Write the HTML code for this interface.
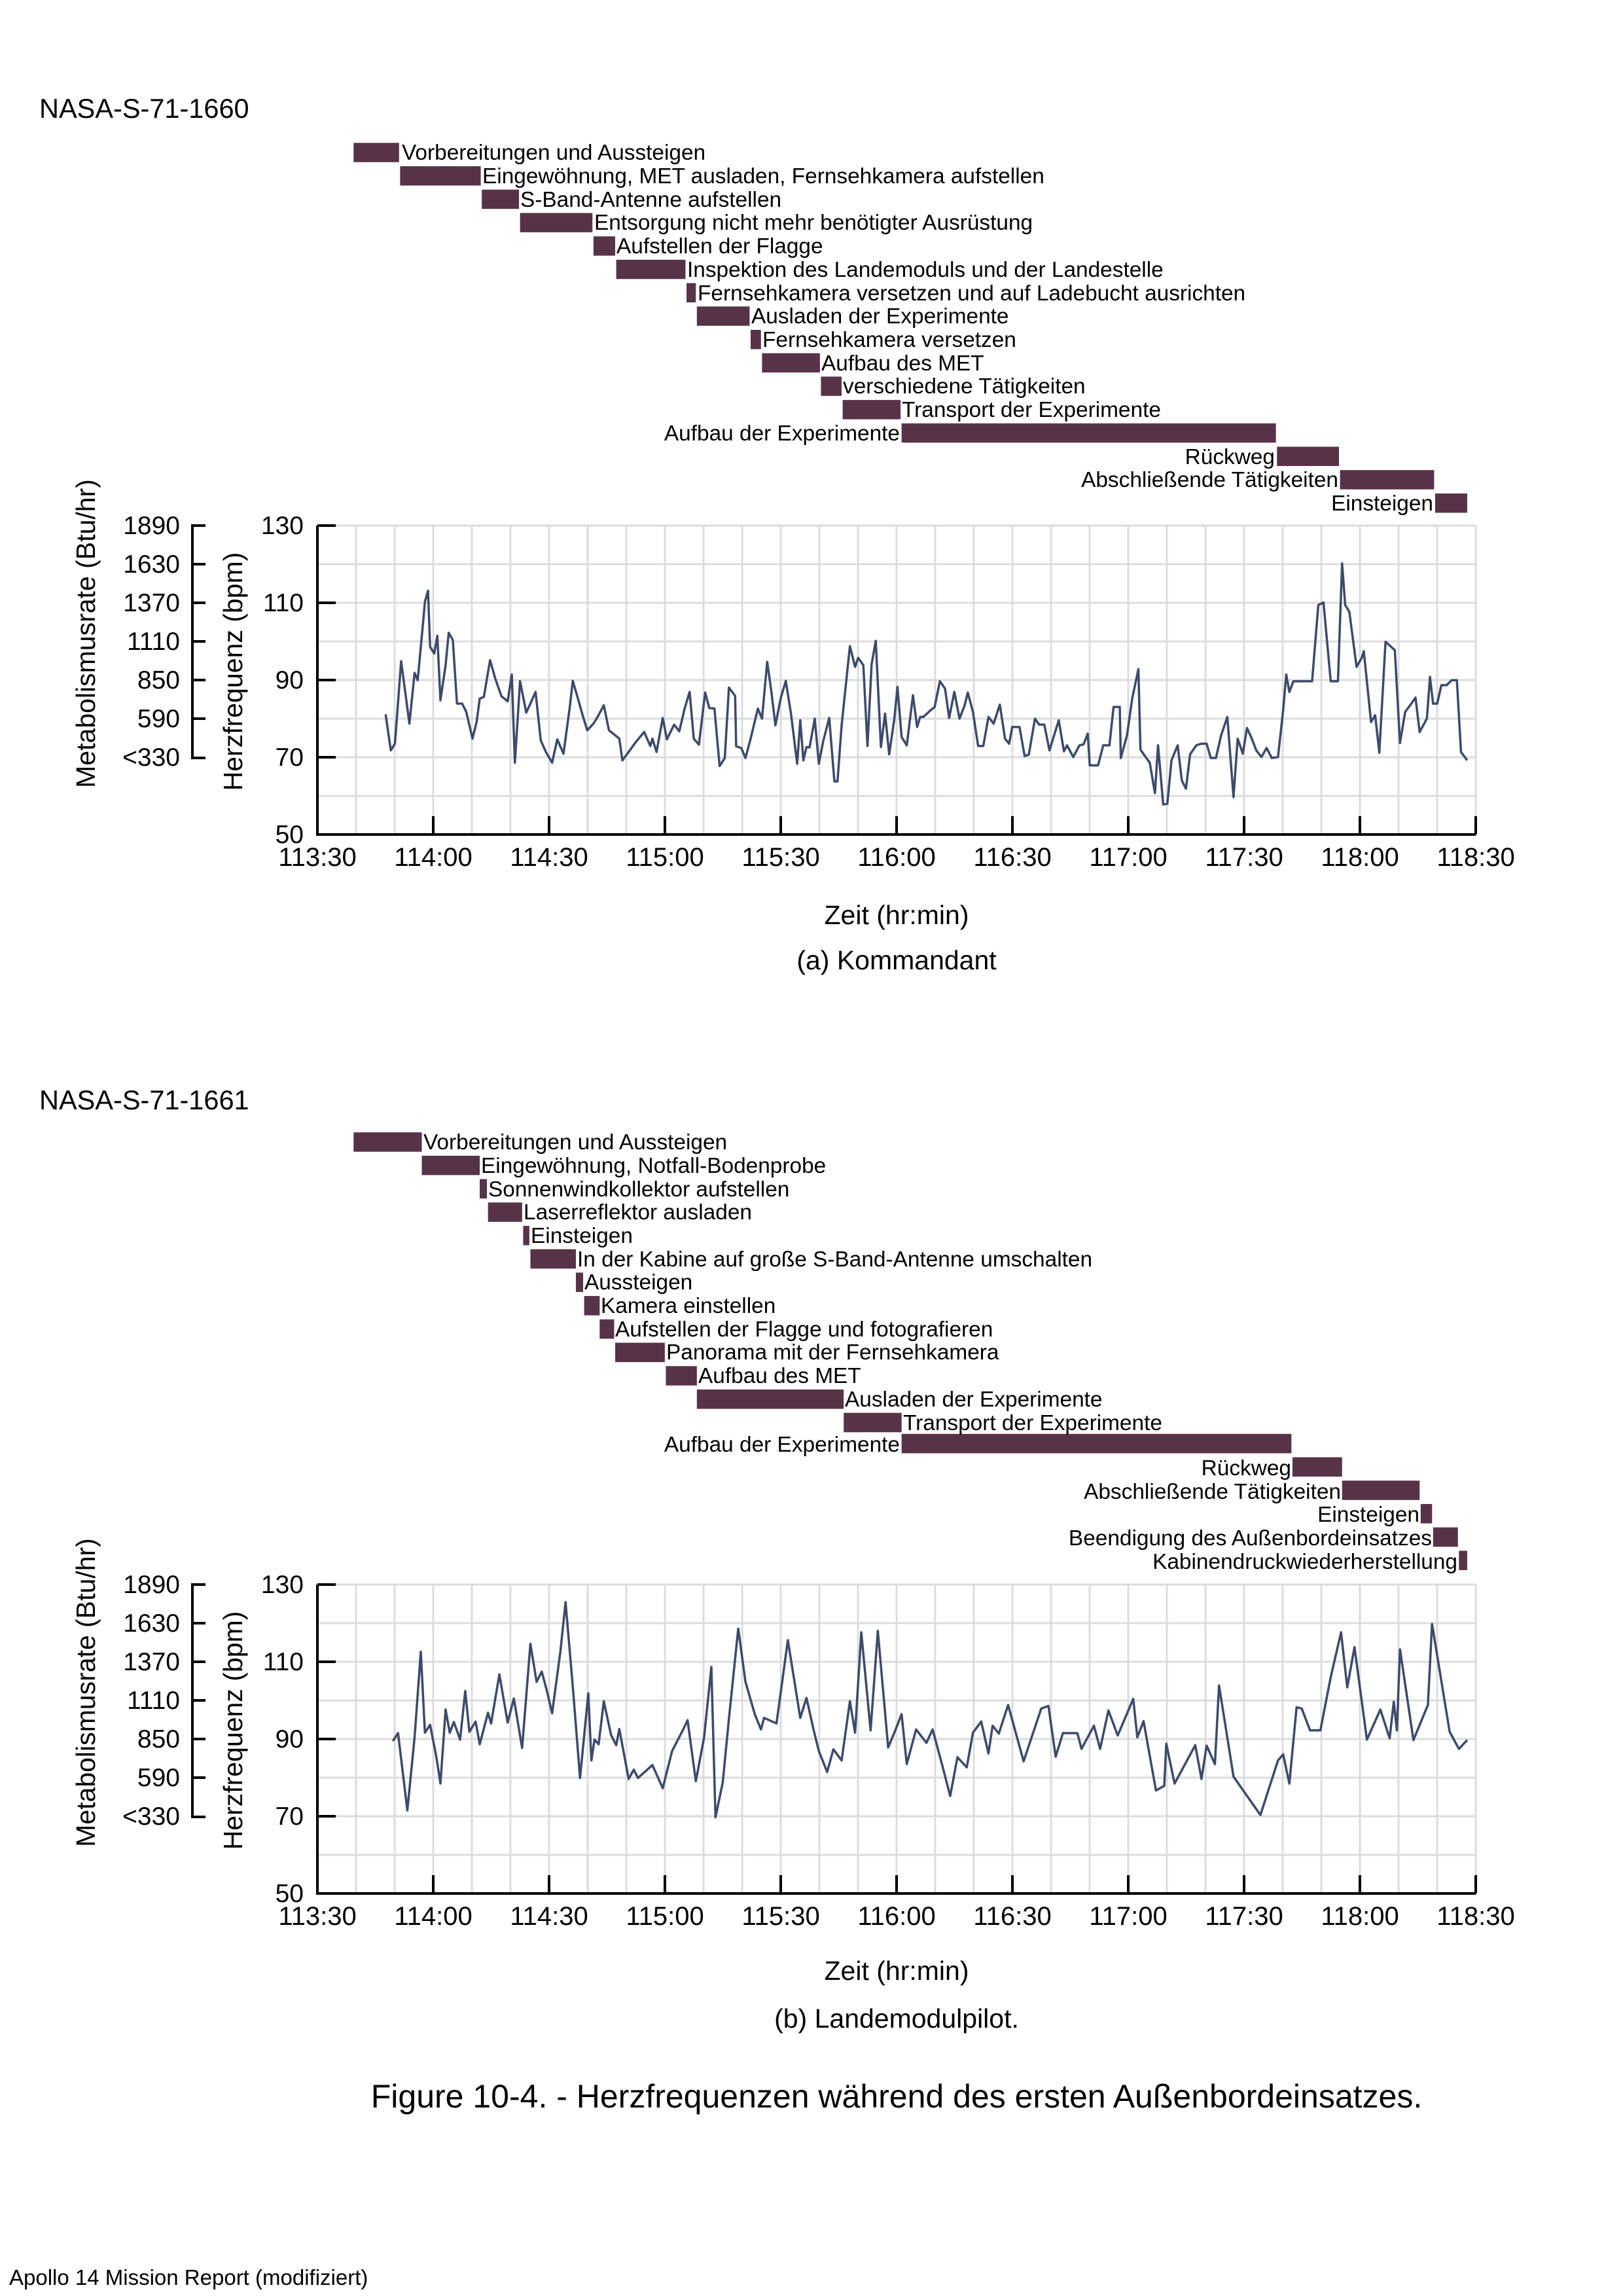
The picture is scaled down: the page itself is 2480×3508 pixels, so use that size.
<!DOCTYPE html>
<html><head><meta charset="utf-8"><style>
html,body{margin:0;padding:0;background:#fff}
svg{display:block}
text{font-family:"Liberation Sans",Arial,sans-serif;fill:#000}
</style></head><body>
<svg width="2480" height="3508" viewBox="0 0 2480 3508" xmlns="http://www.w3.org/2000/svg">
<rect width="2480" height="3508" fill="#fff"/>

<!-- ================= CHART A ================= -->
<text x="60" y="180" font-size="41.5">NASA-S-71-1660</text>

<g transform="matrix(1.58 0 0 0.4464 1.5 100)" fill="#573348">
<rect x="341" y="265" width="44" height="66"/>
<rect x="386" y="345" width="78" height="66"/>
<rect x="465" y="425" width="36" height="66"/>
<rect x="502" y="505" width="70" height="66"/>
<rect x="573" y="585" width="21" height="66"/>
<rect x="595" y="665" width="67" height="66"/>
<rect x="663" y="745" width="9" height="66"/>
<rect x="673" y="825" width="51" height="66"/>
<rect x="725" y="905" width="10" height="66"/>
<rect x="736" y="985" width="56" height="66"/>
<rect x="793" y="1065" width="20" height="66"/>
<rect x="814" y="1145" width="56" height="66"/>
<rect x="871" y="1225" width="362" height="66"/>
<rect x="1234" y="1305" width="60" height="66"/>
<rect x="1295" y="1385" width="91" height="66"/>
<rect x="1387" y="1465" width="31" height="66"/>
</g>
<g font-size="33.4">
<text x="614" y="244">Vorbereitungen und Aussteigen</text>
<text x="737" y="280">Eingewöhnung, MET ausladen, Fernsehkamera aufstellen</text>
<text x="795" y="316">S-Band-Antenne aufstellen</text>
<text x="908" y="351">Entsorgung nicht mehr benötigter Ausrüstung</text>
<text x="942" y="387">Aufstellen der Flagge</text>
<text x="1050" y="423">Inspektion des Landemoduls und der Landestelle</text>
<text x="1066" y="459">Fernsehkamera versetzen und auf Ladebucht ausrichten</text>
<text x="1148" y="494">Ausladen der Experimente</text>
<text x="1165" y="530">Fernsehkamera versetzen</text>
<text x="1255" y="566">Aufbau des MET</text>
<text x="1288" y="601">verschiedene Tätigkeiten</text>
<text x="1378" y="637">Transport der Experimente</text>
<text x="1375" y="673" text-anchor="end">Aufbau der Experimente</text>
<text x="1948" y="709" text-anchor="end">Rückweg</text>
<text x="2045" y="744" text-anchor="end">Abschließende Tätigkeiten</text>
<text x="2190" y="780" text-anchor="end">Einsteigen</text>
</g>

<!-- grid A -->
<g stroke="#dcdcdc" stroke-width="3">
<line x1="485" y1="803" x2="2255" y2="803"/><line x1="485" y1="862" x2="2255" y2="862"/><line x1="485" y1="921" x2="2255" y2="921"/><line x1="485" y1="980" x2="2255" y2="980"/><line x1="485" y1="1039" x2="2255" y2="1039"/><line x1="485" y1="1098" x2="2255" y2="1098"/><line x1="485" y1="1157" x2="2255" y2="1157"/><line x1="485" y1="1216" x2="2255" y2="1216"/>
</g>
<g stroke="#dcdcdc" stroke-width="3" id="vga">
<line x1="544" y1="803" x2="544" y2="1275"/><line x1="603" y1="803" x2="603" y2="1275"/><line x1="662" y1="803" x2="662" y2="1275"/><line x1="721" y1="803" x2="721" y2="1275"/><line x1="780" y1="803" x2="780" y2="1275"/><line x1="839" y1="803" x2="839" y2="1275"/><line x1="898" y1="803" x2="898" y2="1275"/><line x1="957" y1="803" x2="957" y2="1275"/><line x1="1016" y1="803" x2="1016" y2="1275"/><line x1="1075" y1="803" x2="1075" y2="1275"/><line x1="1134" y1="803" x2="1134" y2="1275"/><line x1="1193" y1="803" x2="1193" y2="1275"/><line x1="1252" y1="803" x2="1252" y2="1275"/><line x1="1311" y1="803" x2="1311" y2="1275"/><line x1="1370" y1="803" x2="1370" y2="1275"/><line x1="1429" y1="803" x2="1429" y2="1275"/><line x1="1488" y1="803" x2="1488" y2="1275"/><line x1="1547" y1="803" x2="1547" y2="1275"/><line x1="1606" y1="803" x2="1606" y2="1275"/><line x1="1665" y1="803" x2="1665" y2="1275"/><line x1="1724" y1="803" x2="1724" y2="1275"/><line x1="1783" y1="803" x2="1783" y2="1275"/><line x1="1842" y1="803" x2="1842" y2="1275"/><line x1="1901" y1="803" x2="1901" y2="1275"/><line x1="1960" y1="803" x2="1960" y2="1275"/><line x1="2019" y1="803" x2="2019" y2="1275"/><line x1="2078" y1="803" x2="2078" y2="1275"/><line x1="2137" y1="803" x2="2137" y2="1275"/><line x1="2196" y1="803" x2="2196" y2="1275"/><line x1="2255" y1="803" x2="2255" y2="1275"/>
</g>
<!-- axes A -->
<g stroke="#000" stroke-width="4" fill="none">
<path d="M485 803 V1275 H2255"/>
<path d="M485 803 H513 M485 921 H513 M485 1039 H513 M485 1157 H513"/>
<path d="M662 1275 V1247 M839 1275 V1247 M1016 1275 V1247 M1193 1275 V1247 M1370 1275 V1247 M1547 1275 V1247 M1724 1275 V1247 M1901 1275 V1247 M2078 1275 V1247 M2255 1275 V1247"/>
<path d="M314 803 H294 V1158 H314 M294 862 H314 M294 921 H314 M294 980 H314 M294 1039 H314 M294 1098 H314"/>
</g>
<g font-size="39" text-anchor="end">
<text x="464" y="816">130</text><text x="464" y="934">110</text><text x="464" y="1052">90</text><text x="464" y="1170">70</text><text x="464" y="1288">50</text>
<text x="275" y="816">1890</text><text x="275" y="875">1630</text><text x="275" y="934">1370</text><text x="275" y="993">1110</text><text x="275" y="1052">850</text><text x="275" y="1111">590</text><text x="275" y="1170">&lt;330</text>
</g>
<g font-size="40" text-anchor="middle">
<text x="485" y="1323">113:30</text><text x="662" y="1323">114:00</text><text x="839" y="1323">114:30</text><text x="1016" y="1323">115:00</text><text x="1193" y="1323">115:30</text><text x="1370" y="1323">116:00</text><text x="1547" y="1323">116:30</text><text x="1724" y="1323">117:00</text><text x="1901" y="1323">117:30</text><text x="2078" y="1323">118:00</text><text x="2255" y="1323">118:30</text>
</g>
<text x="159" y="982" font-size="41" text-anchor="middle" transform="rotate(-90 145 982)">Metabolismusrate (Btu/hr)</text>
<text x="384" y="1040" font-size="41" text-anchor="middle" transform="rotate(-90 370 1040)">Herzfrequenz (bpm)</text>
<text x="1370" y="1412" font-size="41" text-anchor="middle">Zeit (hr:min)</text>
<text x="1370" y="1481" font-size="41" text-anchor="middle">(a) Kommandant</text>

<g transform="matrix(1.58 0 0 0.5102 1.5 700)">
<polyline fill="none" stroke="#3d4a6b" stroke-width="3.5" vector-effect="non-scaling-stroke" stroke-linejoin="round" points="372,767 377,875 381,855 387,608 395,795 400,643 403,665 408,500 410,430 413,397 415,565 419,585 422,532 425,725 430,620 433,523 437,545 441,735 446,735 450,760 456,840 460,790 463,720 467,715 473,605 478,660 484,713 490,728 494,648 497,912 502,668 508,762 512,735 517,700 522,845 527,880 533,912 538,842 544,885 550,748 553,667 558,720 563,775 567,815 573,795 577,775 583,740 588,815 592,825 598,840 601,905 607,880 614,850 622,820 628,862 630,840 634,880 640,778 644,842 651,798 656,818 661,752 666,700 670,840 675,858 681,702 685,748 690,750 695,922 700,898 704,687 710,712 711,863 716,868 720,898 725,840 732,750 736,780 741,610 745,698 749,800 754,720 759,667 764,765 770,915 773,785 776,905 779,865 782,866 787,780 791,915 795,850 801,778 806,968 809,968 813,800 821,563 826,625 829,598 834,620 838,862 842,617 846,547 851,865 855,765 859,887 864,780 867,685 871,835 876,860 882,710 886,805 889,775 892,775 899,755 903,745 908,668 913,690 917,778 922,700 927,780 932,740 935,702 940,760 945,862 950,862 955,775 960,795 966,738 971,840 975,855 978,805 985,805 990,892 994,888 1000,780 1004,798 1009,798 1014,875 1019,825 1023,785 1028,878 1031,860 1037,895 1043,860 1047,857 1051,825 1053,920 1061,920 1066,860 1072,860 1076,745 1082,745 1083,898 1089,830 1094,720 1100,632 1102,873 1107,895 1111,912 1116,1003 1119,860 1124,1037 1128,1035 1132,905 1138,860 1142,965 1146,990 1150,887 1156,860 1161,855 1166,855 1170,898 1175,898 1180,830 1186,775 1192,1015 1196,840 1201,885 1205,808 1209,835 1214,875 1219,895 1224,868 1229,898 1235,895 1240,755 1243,648 1246,700 1250,668 1268,668 1274,440 1279,432 1286,668 1293,668 1297,315 1300,440 1304,460 1311,625 1316,598 1318,578 1325,790 1329,770 1333,882 1339,550 1348,575 1353,853 1358,760 1364,735 1368,717 1372,820 1379,780 1382,655 1385,735 1389,735 1393,680 1398,680 1403,665 1408,665 1412,880 1418,905"/>
</g>

<!-- ================= CHART B ================= -->
<text x="60" y="1695" font-size="41.5">NASA-S-71-1661</text>

<g transform="matrix(1.58 0 0 0.5102 1.5 1650)" fill="#573348">
<rect x="341" y="157" width="66" height="58"/>
<rect x="407" y="227" width="56" height="58"/>
<rect x="463" y="297" width="7" height="58"/>
<rect x="471" y="367" width="33" height="58"/>
<rect x="505" y="437" width="6" height="58"/>
<rect x="512" y="507" width="44" height="58"/>
<rect x="556" y="577" width="7" height="58"/>
<rect x="564" y="647" width="15" height="58"/>
<rect x="579" y="717" width="14" height="58"/>
<rect x="594" y="787" width="48" height="58"/>
<rect x="643" y="857" width="30" height="58"/>
<rect x="673" y="927" width="142" height="58"/>
<rect x="815" y="997" width="56" height="58"/>
<rect x="871" y="1060" width="377" height="58"/>
<rect x="1249" y="1130" width="48" height="58"/>
<rect x="1297" y="1200" width="75" height="58"/>
<rect x="1373" y="1270" width="11" height="58"/>
<rect x="1385" y="1340" width="24" height="58"/>
<rect x="1410" y="1410" width="8" height="58"/>
</g>
<g font-size="33.4">
<text x="647" y="1756">Vorbereitungen und Aussteigen</text>
<text x="735" y="1792">Eingewöhnung, Notfall-Bodenprobe</text>
<text x="746" y="1828">Sonnenwindkollektor aufstellen</text>
<text x="800" y="1863">Laserreflektor ausladen</text>
<text x="811" y="1899">Einsteigen</text>
<text x="882" y="1935">In der Kabine auf große S-Band-Antenne umschalten</text>
<text x="893" y="1970">Aussteigen</text>
<text x="918" y="2006">Kamera einstellen</text>
<text x="940" y="2042">Aufstellen der Flagge und fotografieren</text>
<text x="1018" y="2077">Panorama mit der Fernsehkamera</text>
<text x="1067" y="2113">Aufbau des MET</text>
<text x="1291" y="2149">Ausladen der Experimente</text>
<text x="1380" y="2185">Transport der Experimente</text>
<text x="1375" y="2218" text-anchor="end">Aufbau der Experimente</text>
<text x="1973" y="2254" text-anchor="end">Rückweg</text>
<text x="2049" y="2290" text-anchor="end">Abschließende Tätigkeiten</text>
<text x="2169" y="2325" text-anchor="end">Einsteigen</text>
<text x="2188" y="2361" text-anchor="end">Beendigung des Außenbordeinsatzes</text>
<text x="2227" y="2397" text-anchor="end">Kabinendruckwiederherstellung</text>
</g>

<g transform="translate(0 1618)">
<g stroke="#dcdcdc" stroke-width="3">
<line x1="485" y1="803" x2="2255" y2="803"/><line x1="485" y1="862" x2="2255" y2="862"/><line x1="485" y1="921" x2="2255" y2="921"/><line x1="485" y1="980" x2="2255" y2="980"/><line x1="485" y1="1039" x2="2255" y2="1039"/><line x1="485" y1="1098" x2="2255" y2="1098"/><line x1="485" y1="1157" x2="2255" y2="1157"/><line x1="485" y1="1216" x2="2255" y2="1216"/>
</g>
<use href="#vga"/>
<g stroke="#000" stroke-width="4" fill="none">
<path d="M485 803 V1275 H2255"/>
<path d="M485 803 H513 M485 921 H513 M485 1039 H513 M485 1157 H513"/>
<path d="M662 1275 V1247 M839 1275 V1247 M1016 1275 V1247 M1193 1275 V1247 M1370 1275 V1247 M1547 1275 V1247 M1724 1275 V1247 M1901 1275 V1247 M2078 1275 V1247 M2255 1275 V1247"/>
<path d="M314 803 H294 V1158 H314 M294 862 H314 M294 921 H314 M294 980 H314 M294 1039 H314 M294 1098 H314"/>
</g>
<g font-size="39" text-anchor="end">
<text x="464" y="816">130</text><text x="464" y="934">110</text><text x="464" y="1052">90</text><text x="464" y="1170">70</text><text x="464" y="1288">50</text>
<text x="275" y="816">1890</text><text x="275" y="875">1630</text><text x="275" y="934">1370</text><text x="275" y="993">1110</text><text x="275" y="1052">850</text><text x="275" y="1111">590</text><text x="275" y="1170">&lt;330</text>
</g>
<g font-size="40" text-anchor="middle">
<text x="485" y="1323">113:30</text><text x="662" y="1323">114:00</text><text x="839" y="1323">114:30</text><text x="1016" y="1323">115:00</text><text x="1193" y="1323">115:30</text><text x="1370" y="1323">116:00</text><text x="1547" y="1323">116:30</text><text x="1724" y="1323">117:00</text><text x="1901" y="1323">117:30</text><text x="2078" y="1323">118:00</text><text x="2255" y="1323">118:30</text>
</g>
<text x="159" y="982" font-size="41" text-anchor="middle" transform="rotate(-90 145 982)">Metabolismusrate (Btu/hr)</text>
<text x="384" y="1040" font-size="41" text-anchor="middle" transform="rotate(-90 370 1040)">Herzfrequenz (bpm)</text>
<text x="1370" y="1407" font-size="41" text-anchor="middle">Zeit (hr:min)</text>
<text x="1370" y="1480" font-size="41" text-anchor="middle">(b) Landemodulpilot.</text>
</g>

<g transform="matrix(1.58 0 0 0.7066 1.5 2400)">
<polyline fill="none" stroke="#3d4a6b" stroke-width="3.5" vector-effect="non-scaling-stroke" stroke-linejoin="round" points="379,368 384,351 393,518 400,360 406,175 410,350 415,333 421,402 425,460 430,300 434,350 438,327 444,365 449,260 453,348 459,326 463,375 471,307 474,330 482,224 490,328 496,276 504,383 512,158 518,240 523,218 528,260 533,308 541,175 546,68 553,250 560,448 568,265 571,410 574,365 578,375 583,282 590,355 595,377 598,342 607,450 612,430 616,448 630,420 640,470 649,390 660,342 664,323 672,455 680,360 687,208 691,533 698,458 704,320 713,125 720,240 729,310 735,343 738,318 750,330 761,150 773,318 779,275 786,345 791,390 799,435 805,386 813,410 821,282 826,350 832,133 841,345 848,130 858,382 864,350 871,310 876,418 885,343 895,372 901,343 910,418 918,487 925,403 934,425 940,350 948,326 955,395 959,335 965,352 974,290 989,412 1006,298 1013,292 1020,402 1027,351 1041,351 1045,385 1057,335 1063,385 1071,302 1080,356 1095,277 1099,360 1105,325 1117,475 1125,465 1127,374 1135,460 1155,377 1161,450 1166,378 1174,418 1178,248 1192,445 1218,528 1235,410 1240,397 1246,460 1253,295 1258,298 1266,345 1276,345 1286,230 1296,133 1302,252 1309,165 1321,365 1334,300 1343,362 1347,283 1350,345 1353,170 1366,366 1380,290 1384,115 1401,348 1410,385 1418,366"/>
</g>

<text x="1370" y="3220" font-size="50" text-anchor="middle">Figure 10-4. - Herzfrequenzen während des ersten Außenbordeinsatzes.</text>
<text x="14" y="3491" font-size="33">Apollo 14 Mission Report (modifiziert)</text>
</svg>
</body></html>
